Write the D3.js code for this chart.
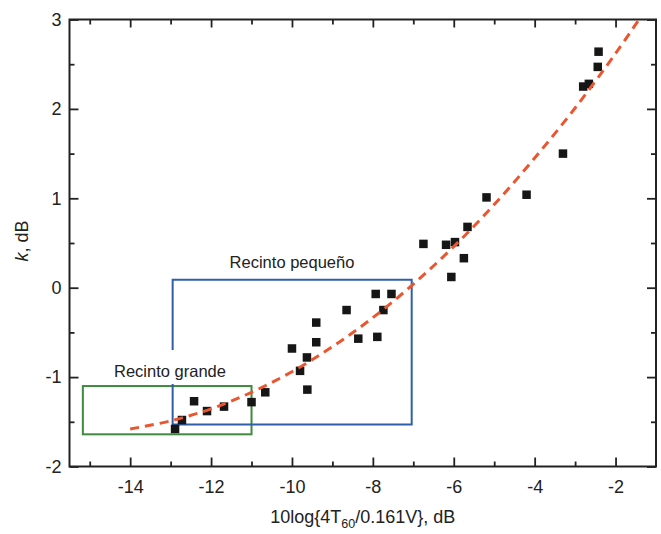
<!DOCTYPE html>
<html>
<head>
<meta charset="utf-8">
<script src="https://cdn.jsdelivr.net/npm/d3@7"></script>
<style>
  body { margin: 0; background: #fff; }
  svg text { font-family: "Liberation Sans", Arial, sans-serif; fill: #222; }
</style>
</head>
<body>
<svg id="chart" width="661" height="534"></svg>
<script>
// measured points (x = 10log{4T60/0.161V} dB, k dB)
const pointX = [-12.89, -12.72, -12.42, -12.10, -11.68, -11.00, -10.66, -10.00, -9.80, -9.63,
  -9.62, -9.40, -9.40, -8.65, -8.36, -7.93, -7.54, -7.89, -7.74, -6.75,
  -6.19, -5.97, -6.06, -5.75, -5.66, -5.19, -4.20, -3.30, -2.80, -2.66,
  -2.44, -2.42];
const pointK = [-1.58, -1.48, -1.27, -1.38, -1.33, -1.28, -1.17, -0.68, -0.93, -0.78,
  -1.14, -0.39, -0.61, -0.25, -0.57, -0.07, -0.07, -0.55, -0.25, 0.49,
  0.48, 0.51, 0.12, 0.33, 0.68, 1.01, 1.04, 1.50, 2.25, 2.28,
  2.47, 2.64];

// fitted curve (dashed)
const fitX = [-14, -13, -12, -11, -10, -9, -8, -7, -6, -5, -4, -3, -2, -1.42];
const fitK = [-1.58, -1.49, -1.355, -1.17, -0.94, -0.66, -0.335, 0.04, 0.46, 0.93, 1.45, 2.01, 2.62, 3.0];

// room regions [x0, x1, k0, k1]
const smallRoom = [-12.95, -7.04, -1.53, 0.09];
const largeRoom = [-15.17, -11.0, -1.64, -1.10];

const xMajor = [-14, -12, -10, -8, -6, -4, -2];
const xMinor = [-15, -13, -11, -9, -7, -5, -3];
const yMajor = [-2, -1, 0, 1, 2, 3];
const yMinor = [-1.5, -0.5, 0.5, 1.5, 2.5];

const svg = d3.select("#chart");
const plotL = 69.5, plotR = 656, plotT = 19.5, plotB = 466.5;

const x = d3.scaleLinear().domain([-15.5, -1]).range([plotL, plotR]);
const y = d3.scaleLinear().domain([-2, 3]).range([plotB, plotT]);

// plain hyphen for negatives, like the original
const fmt = d => String(d);

// ------------------------------------------------------------------
// axes (ticks point inward on all four sides)
// ------------------------------------------------------------------
function styleAxis(g) {
  g.select(".domain").remove();
  g.selectAll(".tick line").attr("stroke", "#222").attr("stroke-width", 1.8);
  g.selectAll("text").attr("font-size", 18).attr("fill", "#222")
    .attr("font-family", "Liberation Sans, Arial, sans-serif");
}

svg.append("g").attr("transform", `translate(0,${plotB})`)
  .call(d3.axisBottom(x).tickValues(xMajor).tickSize(-9).tickPadding(13.5).tickFormat(fmt))
  .call(styleAxis);
svg.append("g").attr("transform", `translate(0,${plotB})`)
  .call(d3.axisBottom(x).tickValues(xMinor).tickSize(-5).tickFormat(""))
  .call(styleAxis);
svg.append("g").attr("transform", `translate(0,${plotT})`)
  .call(d3.axisTop(x).tickValues(xMajor).tickSize(-8).tickFormat(""))
  .call(styleAxis);
svg.append("g").attr("transform", `translate(0,${plotT})`)
  .call(d3.axisTop(x).tickValues(xMinor).tickSize(-5).tickFormat(""))
  .call(styleAxis);

svg.append("g").attr("transform", `translate(${plotL},0)`)
  .call(d3.axisLeft(y).tickValues(yMajor).tickSize(-9).tickPadding(8).tickFormat(fmt))
  .call(styleAxis);
svg.append("g").attr("transform", `translate(${plotL},0)`)
  .call(d3.axisLeft(y).tickValues(yMinor).tickSize(-5).tickFormat(""))
  .call(styleAxis);
svg.append("g").attr("transform", `translate(${plotR},0)`)
  .call(d3.axisRight(y).tickValues(yMajor).tickSize(-9).tickFormat(""))
  .call(styleAxis);
svg.append("g").attr("transform", `translate(${plotR},0)`)
  .call(d3.axisRight(y).tickValues(yMinor).tickSize(-5).tickFormat(""))
  .call(styleAxis);

// frame
svg.append("rect")
  .attr("x", plotL).attr("y", plotT)
  .attr("width", plotR - plotL).attr("height", plotB - plotT)
  .attr("fill", "none").attr("stroke", "#222").attr("stroke-width", 2);

// ------------------------------------------------------------------
// room boxes
// ------------------------------------------------------------------
const blue = "#2f5fa8", green = "#3f8a3c";

svg.append("rect")
  .attr("x", x(largeRoom[0])).attr("y", y(largeRoom[3]))
  .attr("width", x(largeRoom[1]) - x(largeRoom[0]))
  .attr("height", y(largeRoom[2]) - y(largeRoom[3]))
  .attr("fill", "none").attr("stroke", green).attr("stroke-width", 2);

// small room box, left edge broken behind the "Recinto grande" label
const s = smallRoom;
const gapTop = 350, gapBottom = 384;
svg.append("path")
  .attr("d", `M${x(s[0])},${gapTop} L${x(s[0])},${y(s[3])} L${x(s[1])},${y(s[3])} ` +
             `L${x(s[1])},${y(s[2])} L${x(s[0])},${y(s[2])} L${x(s[0])},${gapBottom}`)
  .attr("fill", "none").attr("stroke", blue).attr("stroke-width", 2);

svg.append("text")
  .attr("x", 292).attr("y", 268)
  .attr("text-anchor", "middle").attr("font-size", 16.5)
  .text("Recinto pequeño");
svg.append("text")
  .attr("x", 170).attr("y", 376.5)
  .attr("text-anchor", "middle").attr("font-size", 16.5)
  .text("Recinto grande");

// ------------------------------------------------------------------
// data points and fit
// ------------------------------------------------------------------
const pts = pointX.map((v, i) => ({ x: v, k: pointK[i] }));
const sq = 8.5;
svg.append("g")
  .selectAll("rect")
  .data(pts)
  .join("rect")
  .attr("x", d => x(d.x) - sq / 2)
  .attr("y", d => y(d.k) - sq / 2)
  .attr("width", sq).attr("height", sq)
  .attr("fill", "#161616");

const fit = fitX.map((v, i) => ({ x: v, k: fitK[i] }));
svg.append("path")
  .datum(fit)
  .attr("d", d3.line().x(d => x(d.x)).y(d => y(d.k)).curve(d3.curveCatmullRom))
  .attr("fill", "none")
  .attr("stroke", "#ea5630")
  .attr("stroke-width", 3)
  .attr("stroke-dasharray", "9,6");

// ------------------------------------------------------------------
// axis titles
// ------------------------------------------------------------------
const xt = svg.append("text")
  .attr("x", (plotL + plotR) / 2).attr("y", 523)
  .attr("text-anchor", "middle").attr("font-size", 18);
xt.append("tspan").text("10log{4T");
xt.append("tspan").attr("font-size", 12.5).attr("dy", 5).text("60");
xt.append("tspan").attr("dy", -5).text("/0.161V}, dB");

const yt = svg.append("text")
  .attr("transform", "translate(28,241) rotate(-90)")
  .attr("text-anchor", "middle").attr("font-size", 18);
yt.append("tspan").attr("font-style", "italic").text("k");
yt.append("tspan").text(", dB");
</script>
</body>
</html>
